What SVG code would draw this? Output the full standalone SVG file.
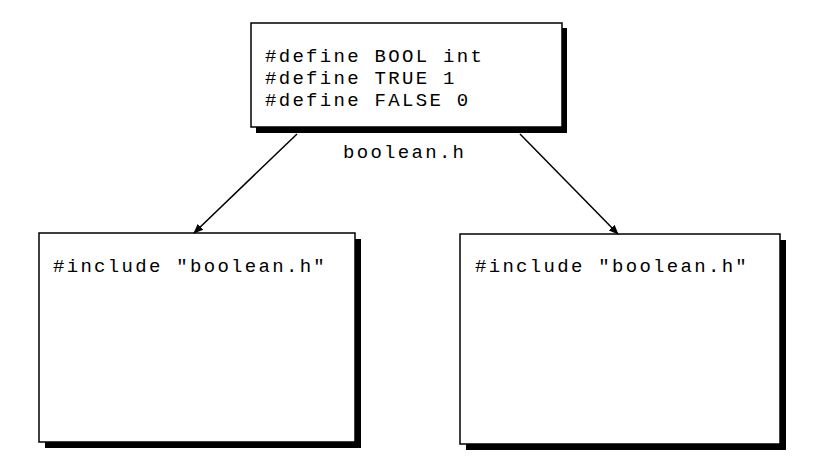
<svg xmlns="http://www.w3.org/2000/svg" width="833" height="468" viewBox="0 0 833 468">
<style>
.shadow{fill:#000}
.box{fill:#fff;stroke:#000;stroke-width:1.5}
.t{font-family:"Liberation Mono","Courier New",monospace;font-size:19px;letter-spacing:2.3px;fill:#000}
.conn{stroke:#000;stroke-width:1.5;fill:none;marker-end:url(#ah)}
</style>
<defs>
<marker id="ah" viewBox="0 0 10 10" refX="9" refY="5" markerWidth="10" markerHeight="10" markerUnits="userSpaceOnUse" orient="auto">
<path d="M0,1 L10,5 L0,9 Z" fill="#000"/>
</marker>
</defs>
<rect width="833" height="468" fill="#fff"/>
<g id="boolean-h">
<rect class="shadow" x="256" y="28" width="311" height="105"/>
<rect class="box" x="251" y="23" width="311" height="104"/>
<text class="t" x="265" y="62">#define BOOL int</text>
<text class="t" x="265" y="84">#define TRUE 1</text>
<text class="t" x="265" y="106">#define FALSE 0</text>
<text class="t" x="343" y="158">boolean.h</text>
</g>
<g id="file-left">
<rect class="shadow" x="45" y="239" width="316" height="209"/>
<rect class="box" x="39" y="233" width="316" height="209"/>
<text class="t" x="53" y="272">#include "boolean.h"</text>
</g>
<g id="file-right">
<rect class="shadow" x="466" y="240" width="320" height="210"/>
<rect class="box" x="460" y="234" width="320" height="210"/>
<text class="t" x="475" y="272">#include "boolean.h"</text>
</g>
<g id="connectors">
<line class="conn" x1="297" y1="134" x2="194" y2="233"/>
<line class="conn" x1="520" y1="134" x2="618" y2="234"/>
</g>
</svg>
